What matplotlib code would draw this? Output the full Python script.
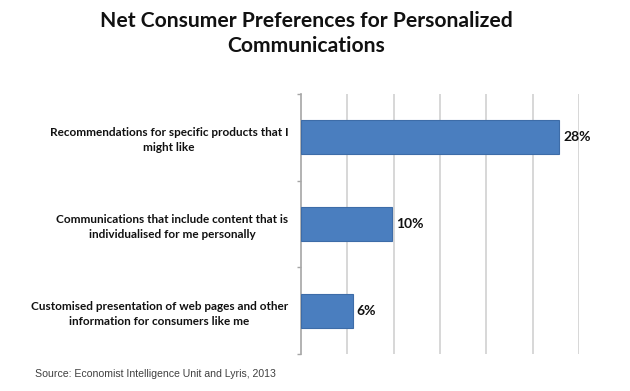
import matplotlib
matplotlib.use("Agg")
import matplotlib.pyplot as plt
import numpy as np

plt.rcParams['font.family'] = ['Lato', 'DejaVu Sans']

# data
categories = [
    "Recommendations for specific products that I\nmight like",
    "Communications that include content that is\nindividualised for me personally",
    "Customised presentation of web pages and other\ninformation for consumers like me",
]
values = [27.8, 9.8, 5.6]
title = "Net Consumer Preferences for Personalized\nCommunications"
source = "Source: Economist Intelligence Unit and Lyris, 2013"

bar_color = '#4a7ebf'
edge_color = '#3d6ca8'
grid_color = '#d4d4d4'
spine_color = '#a6a6a6'

fig = plt.figure(figsize=(6.3, 3.91), dpi=100)
ax = fig.add_axes([0.4773, 0.0946, 0.4422, 0.665])

y = np.arange(len(categories))
ax.barh(y, values, height=0.39, color=bar_color, edgecolor=edge_color,
        linewidth=0.8, zorder=3)

ax.set_xlim(0, 30)
ax.set_ylim(len(categories) - 0.5, -0.5)
ax.set_xticks(np.arange(5, 31, 5))
ax.tick_params(axis='x', length=0, labelbottom=False)
ax.grid(axis='x', color=grid_color, linewidth=1.3, zorder=0)

# category labels on major ticks, tick marks on the boundaries
ax.set_yticks(y)
ax.set_yticklabels(categories, fontsize=8.5, fontweight='bold', color='#111111')
for t in ax.get_yticklabels():
    t.set_multialignment('center')
    t.set_linespacing(1.45)
ax.tick_params(axis='y', which='major', length=0, pad=9)
ax.set_yticks(np.arange(-0.5, len(categories)), minor=True)
ax.tick_params(axis='y', which='minor', length=3, width=1, color=spine_color)

for s in ['top', 'right', 'bottom']:
    ax.spines[s].set_visible(False)
ax.spines['left'].set_color(spine_color)
ax.spines['left'].set_linewidth(1.2)

for i, v in enumerate(values):
    ax.annotate(f"{v:.0f}%", xy=(v, i), xytext=(3, 0), textcoords='offset points',
                ha='left', va='center', fontsize=10, fontweight='bold',
                color='#111111')

fig.text(0.4865, 0.972, title, ha='center', va='top', fontsize=15.2,
         fontweight='bold', color='#111111', linespacing=1.3)
fig.text(0.0556, 0.0435, source, ha='left', va='center', fontsize=7.55,
         family='Liberation Sans', color='#404040')

plt.savefig("out.png", dpi=100)
